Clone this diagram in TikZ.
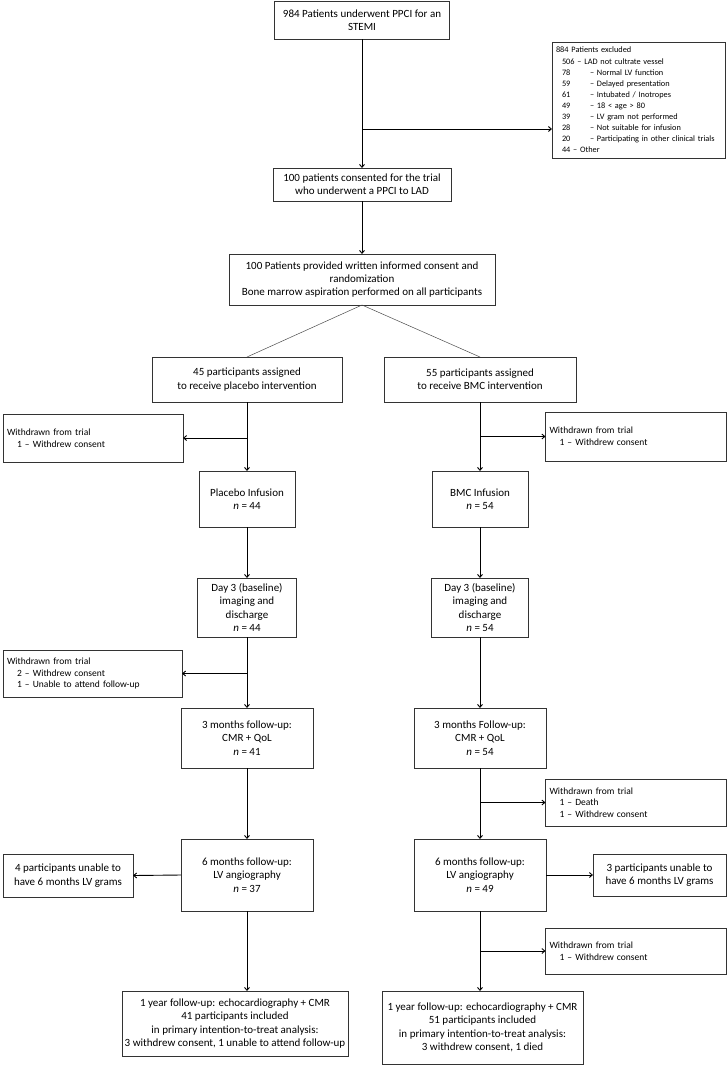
\documentclass[tikz,border=0pt]{standalone}
\usepackage{fontspec}
\setmainfont{Carlito}
\usetikzlibrary{arrows.meta}

\tikzset{
  box/.style={draw=black!80, line width=0.7pt, inner sep=0pt, outer sep=0pt,
    align=center, font=\fontsize{11}{13.4}\selectfont},
  note/.style={draw=black!80, line width=0.7pt, inner xsep=4pt, inner ysep=0pt,
    outer sep=0pt, align=left, text width=#1, font=\fontsize{9.5}{11.7}\selectfont},
  arr/.style={-{Straight Barb[length=3pt,width=5pt]}, line width=0.9pt},
  split/.style={line width=0.5pt, black!70}
}
\newcommand{\ind}{\hspace*{10pt}}
\newcommand{\exrow}[2]{\hspace*{6pt}\makebox[28pt][l]{#1}-- #2}

\begin{document}
\begin{tikzpicture}[x=1pt, y=-1pt]
        \useasboundingbox (0,0) rectangle (727,1066);

        % Screening and enrolment
        \node[box, minimum width=175, minimum height=38] (start) at (362,20)
            {984 Patients underwent PPCI for an\\STEMI};
        \node[note=165pt, minimum height=116, font=\fontsize{8.3}{11.1}\selectfont] (excl) at (638.5,100)
            {884 Patients excluded\\
             \hspace*{6pt}506 -- LAD not cultrate vessel\\
             \exrow{78}{Normal LV function}\\
             \exrow{59}{Delayed presentation}\\
             \exrow{61}{Intubated / Inotropes}\\
             \exrow{49}{18 < age > 80}\\
             \exrow{39}{LV gram not performed}\\
             \exrow{28}{Not suitable for infusion}\\
             \exrow{20}{Participating in other clinical trials}\\
             \hspace*{6pt}44 -- Other};
        \node[box, minimum width=178, minimum height=33] (cons) at (362,184.5)
            {100 patients consented for the trial\\who underwent a PPCI to LAD};
        \node[box, minimum width=266, minimum height=51] (rand) at (362,279.5)
            {100 Patients provided written informed consent and\\randomization\\Bone marrow aspiration performed on all participants};
        \coordinate (ex) at (362,129);

        % Placebo arm
        \node[box, minimum width=190, minimum height=45] (aL) at (247,379.5)
            {45 participants assigned\\to receive placebo intervention};
        \node[note=172pt, minimum height=48] (wL1) at (93,438)
            {Withdrawn from trial\\\ind 1 -- Withdrew consent};
        \node[box, minimum width=96, minimum height=56] (pL) at (247,499)
            {Placebo Infusion\\\textit{n} = 44};
        \node[box, minimum width=99, minimum height=59] (dL) at (247,607.5)
            {Day 3 (baseline)\\imaging and\\discharge\\\textit{n} = 44};
        \node[note=171pt, minimum height=47] (wL2) at (92.5,673.5)
            {Withdrawn from trial\\\ind 2 -- Withdrew consent\\\ind 1 -- Unable to attend follow-up};
        \node[box, minimum width=132, minimum height=60] (tL) at (247,738)
            {3 months follow-up:\\CMR + QoL\\\textit{n} = 41};
        \node[box, minimum width=132, minimum height=72] (sL) at (247,875)
            {6 months follow-up:\\LV angiography\\\textit{n} = 37};
        \node[box, minimum width=130, minimum height=43] (uL) at (68,875.5)
            {4 participants unable to\\have 6 months LV grams};
        \node[box, minimum width=226, minimum height=65] (bL) at (235,1023.5)
            {1 year follow-up: echocardiography + CMR\\41 participants included\\in primary intention-to-treat analysis:\\3 withdrew consent, 1 unable to attend follow-up};

        % BMC arm
        \node[box, minimum width=192, minimum height=45] (aR) at (480,379.5)
            {55 participants assigned\\to receive BMC intervention};
        \node[note=173pt, minimum height=49] (wR1) at (636,436.5)
            {Withdrawn from trial\\\ind 1 -- Withdrew consent};
        \node[box, minimum width=96, minimum height=56] (pR) at (480,499)
            {BMC Infusion\\\textit{n} = 54};
        \node[box, minimum width=97, minimum height=59] (dR) at (480,607.5)
            {Day 3 (baseline)\\imaging and\\discharge\\\textit{n} = 54};
        \node[box, minimum width=132, minimum height=60] (tR) at (480,738)
            {3 months Follow-up:\\CMR + QoL\\\textit{n} = 54};
        \node[note=173pt, minimum height=47] (wR3) at (636,802.5)
            {Withdrawn from trial\\\ind 1 -- Death\\\ind 1 -- Withdrew consent};
        \node[box, minimum width=132, minimum height=72] (sR) at (480,875)
            {6 months follow-up:\\LV angiography\\\textit{n} = 49};
        \node[box, minimum width=133, minimum height=42] (uR) at (659.5,875)
            {3 participants unable to\\have 6 months LV grams};
        \node[note=173pt, minimum height=46] (wR4) at (636,951)
            {Withdrawn from trial\\\ind 1 -- Withdrew consent};
        \node[box, minimum width=201, minimum height=73] (bR) at (482.5,1027.5)
            {1 year follow-up: echocardiography + CMR\\51 participants included\\in primary intention-to-treat analysis:\\3 withdrew consent, 1 died};

        % Main flow
        \draw[arr] (start) -- (cons);
        \draw[arr] (ex) -- (ex -| excl.west);
        \draw[arr] (cons) -- (rand);
        \draw[split] (rand.south) -- (aL.north);
        \draw[split] (rand.south) -- (aR.north);

        % Down the two columns
        \foreach \a/\b in {aL/pL, pL/dL, dL/tL, tL/sL, aR/pR, pR/dR, dR/tR, tR/sR} {
            \draw[arr] (\a) -- (\b);
        }
        \draw[arr] (sL.south) -- (sL.south |- bL.north);
        \draw[arr] (sR.south) -- (sR.south |- bR.north);

        % Losses
        \draw[arr] (pL |- wL1) -- (wL1.east);
        \draw[arr] (dL |- wL2) -- (wL2.east);
        \draw[arr] (sL.west) -- (uL.east);
        \draw[arr] (pR |- wR1) -- (wR1.west);
        \draw[arr] (tR |- wR3) -- (wR3.west);
        \draw[arr] (sR.east) -- (uR.west);
        \draw[arr] (sR |- wR4) -- (wR4.west);

    \end{tikzpicture}
\end{document}
